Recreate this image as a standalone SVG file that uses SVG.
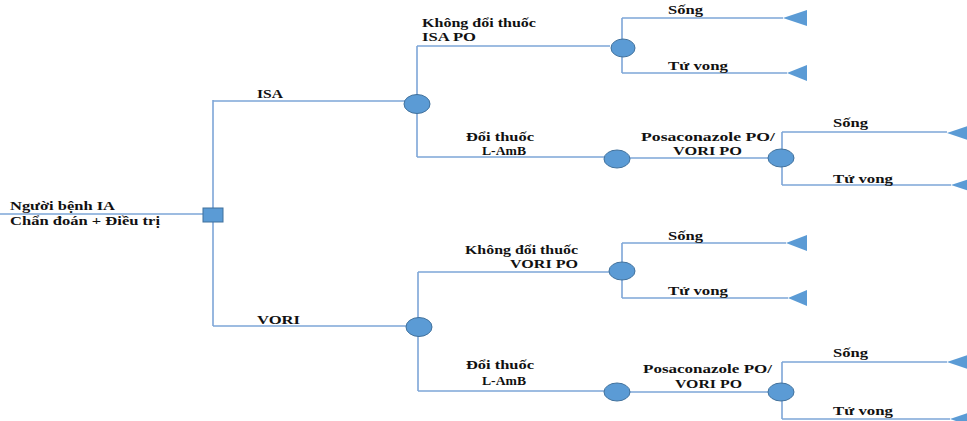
<svg xmlns="http://www.w3.org/2000/svg" width="967" height="421" viewBox="0 0 967 421">
<style>
.ln{stroke:#7ea6d8;stroke-width:1.6;fill:none}
.ch{fill:#5b9bd5;stroke:#41719c;stroke-width:1}
.tm{fill:#5b9bd5;stroke:none}
.t{font-family:"Liberation Serif","Times New Roman","DejaVu Serif",serif;font-weight:bold;font-size:13px;fill:#111}
</style>
<rect width="967" height="421" fill="#ffffff"/>
<g id="connectors">
<path class="ln" d="M0,214H203M213,100V326M213,101H405M213,326H406"/>
<path class="ln" d="M417,46V157M417,46H610M417,157H604M630,158H768"/>
<path class="ln" d="M622,18V73M622,18H783M622,73H787"/>
<path class="ln" d="M782,132V185M782,132H947M782,185H951"/>
<path class="ln" d="M418,272V391M418,272H609M418,391H604M630,392H768"/>
<path class="ln" d="M622,243V298M622,243H786M622,298H788"/>
<path class="ln" d="M782,362V419M782,362H947M782,419H950"/>
</g>
<g id="root">
<rect class="ch" x="203" y="208" width="20" height="14"/>
<text class="t" x="10" y="210" textLength="105" lengthAdjust="spacingAndGlyphs">Người bệnh IA</text>
<text class="t" x="10" y="225" textLength="150" lengthAdjust="spacingAndGlyphs">Chẩn đoán + Điều trị</text>
</g>
<g id="isa">
<text class="t" x="257" y="98" textLength="26" lengthAdjust="spacingAndGlyphs">ISA</text>
<ellipse class="ch" cx="417" cy="104" rx="13" ry="9.5"/>
</g>
<g id="isa-khong-doi">
<text class="t" x="422" y="27" textLength="114" lengthAdjust="spacingAndGlyphs">Không đổi thuốc</text>
<text class="t" x="422" y="41" textLength="54" lengthAdjust="spacingAndGlyphs">ISA PO</text>
<ellipse class="ch" cx="623" cy="48" rx="12" ry="9"/>
</g>
<g id="isa-kd-song">
<text class="t" x="668" y="14" textLength="35" lengthAdjust="spacingAndGlyphs">Sống</text>
<polygon class="tm" points="783,18 807,10 807,26"/>
</g>
<g id="isa-kd-tuvong">
<text class="t" x="668" y="70" textLength="60" lengthAdjust="spacingAndGlyphs">Tử vong</text>
<polygon class="tm" points="787,73 807,65 807,81"/>
</g>
<g id="isa-doi">
<text class="t" x="466" y="141" textLength="68" lengthAdjust="spacingAndGlyphs">Đổi thuốc</text>
<text class="t" x="482" y="155" textLength="44" lengthAdjust="spacingAndGlyphs">L-AmB</text>
<ellipse class="ch" cx="617" cy="159" rx="13" ry="9"/>
</g>
<g id="isa-posa">
<text class="t" x="641" y="141" textLength="134" lengthAdjust="spacingAndGlyphs">Posaconazole PO/</text>
<text class="t" x="673" y="155" textLength="69" lengthAdjust="spacingAndGlyphs">VORI PO</text>
<ellipse class="ch" cx="781" cy="158" rx="13" ry="9"/>
</g>
<g id="isa-posa-song">
<text class="t" x="833" y="127" textLength="35" lengthAdjust="spacingAndGlyphs">Sống</text>
<polygon class="tm" points="947,133 971,125 971,141"/>
</g>
<g id="isa-posa-tuvong">
<text class="t" x="833" y="183" textLength="60" lengthAdjust="spacingAndGlyphs">Tử vong</text>
<polygon class="tm" points="951,185 975,177 975,193"/>
</g>
<g id="vori">
<text class="t" x="257" y="324" textLength="43" lengthAdjust="spacingAndGlyphs">VORI</text>
<ellipse class="ch" cx="419" cy="327" rx="13" ry="9.5"/>
</g>
<g id="vori-khong-doi">
<text class="t" x="465" y="254" textLength="113" lengthAdjust="spacingAndGlyphs">Không đổi thuốc</text>
<text class="t" x="510" y="268" textLength="68" lengthAdjust="spacingAndGlyphs">VORI PO</text>
<ellipse class="ch" cx="622" cy="271" rx="13" ry="9"/>
</g>
<g id="vori-kd-song">
<text class="t" x="668" y="240" textLength="35" lengthAdjust="spacingAndGlyphs">Sống</text>
<polygon class="tm" points="786,243 807,235 807,251"/>
</g>
<g id="vori-kd-tuvong">
<text class="t" x="668" y="295" textLength="60" lengthAdjust="spacingAndGlyphs">Tử vong</text>
<polygon class="tm" points="788,298 807,290 807,306"/>
</g>
<g id="vori-doi">
<text class="t" x="466" y="369" textLength="68" lengthAdjust="spacingAndGlyphs">Đổi thuốc</text>
<text class="t" x="482" y="385" textLength="44" lengthAdjust="spacingAndGlyphs">L-AmB</text>
<ellipse class="ch" cx="617" cy="392" rx="13" ry="9"/>
</g>
<g id="vori-posa">
<text class="t" x="643" y="373" textLength="129" lengthAdjust="spacingAndGlyphs">Posaconazole PO/</text>
<text class="t" x="675" y="388" textLength="67" lengthAdjust="spacingAndGlyphs">VORI PO</text>
<ellipse class="ch" cx="781" cy="392" rx="13" ry="9"/>
</g>
<g id="vori-posa-song">
<text class="t" x="833" y="357" textLength="35" lengthAdjust="spacingAndGlyphs">Sống</text>
<polygon class="tm" points="947,362 971,354 971,370"/>
</g>
<g id="vori-posa-tuvong">
<text class="t" x="833" y="415" textLength="60" lengthAdjust="spacingAndGlyphs">Tử vong</text>
<polygon class="tm" points="950,419 974,411 974,427"/>
</g>
</svg>
